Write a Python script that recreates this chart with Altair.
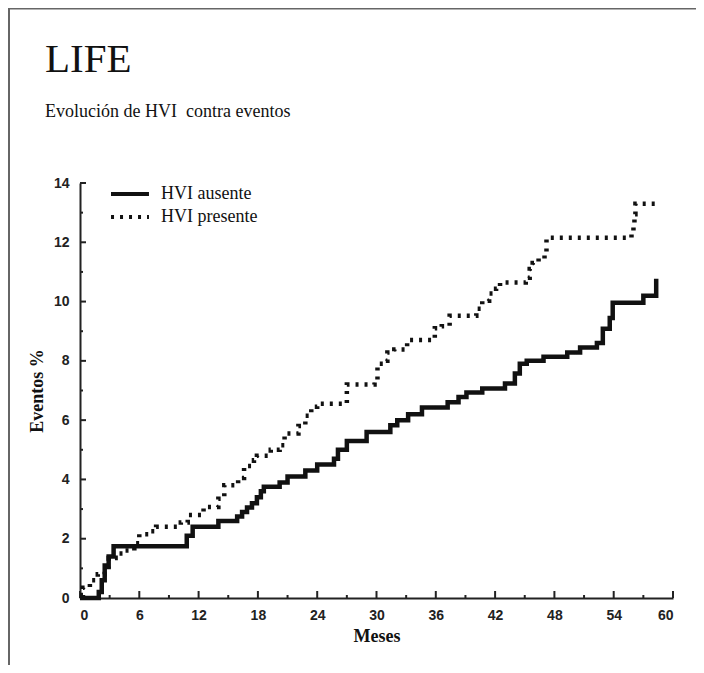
import altair as alt
import pandas as pd

# ---- data ----
series_names = ["HVI ausente", "HVI presente"]

ausente_mes = [0, 1.9, 2.2, 2.5, 2.9, 3.4, 10.8, 11.4, 14.0, 15.9, 16.4, 16.9, 17.4, 17.9, 18.3, 18.6,
               20.2, 21.0, 22.8, 24.0, 25.7, 26.1, 27.0, 29.0, 31.4, 32.1, 33.2, 34.6, 37.2, 38.3,
               39.1, 40.7, 43.0, 44.0, 44.5, 45.2, 46.9, 49.3, 50.6, 52.3, 52.9, 53.6, 53.9, 57.0, 58.3]
ausente_val = [0, 0.2, 0.6, 1.1, 1.4, 1.75, 2.1, 2.4, 2.6, 2.75, 2.9, 3.05, 3.2, 3.4, 3.6, 3.75,
               3.9, 4.1, 4.3, 4.5, 4.7, 5.0, 5.3, 5.6, 5.83, 6.0, 6.2, 6.43, 6.6, 6.78,
               6.93, 7.07, 7.24, 7.57, 7.9, 8.0, 8.14, 8.28, 8.45, 8.6, 9.08, 9.45, 9.96, 10.2, 10.77]

presente_mes = [0, 0.3, 1.0, 1.8, 2.5, 2.9, 3.6, 4.6, 5.5, 6.0, 7.2, 7.7, 10.2, 10.9, 12.5, 14.0,
                14.6, 16.0, 16.6, 17.6, 17.9, 19.3, 20.2, 20.7, 22.1, 22.8, 23.4, 24.0, 27.0, 29.8,
                30.1, 30.9, 31.1, 31.8, 33.1, 35.9, 36.6, 37.4, 40.1, 40.7, 41.4, 42.1, 42.5, 45.1,
                45.5, 45.8, 46.4, 47.0, 47.2, 55.8, 56.0, 56.1, 56.2, 58.3]
presente_val = [0.1, 0.35, 0.6, 0.8, 1.05, 1.35, 1.5, 1.6, 1.85, 2.15, 2.25, 2.4, 2.55, 2.8, 3.07, 3.35,
                3.8, 4.05, 4.45, 4.65, 4.8, 5.0, 5.15, 5.55, 5.8, 6.15, 6.45, 6.55, 7.2, 7.35,
                7.9, 8.0, 8.28, 8.38, 8.7, 9.1, 9.17, 9.52, 9.76, 10.03, 10.27, 10.43, 10.64, 10.8,
                11.1, 11.3, 11.45, 11.6, 12.15, 12.3, 12.65, 12.95, 13.3, 13.3]

x_ticks_major = list(range(0, 61, 6))
x_ticks_minor = list(range(3, 60, 6))
y_ticks_major = list(range(0, 15, 2))
y_ticks_minor = list(range(1, 14, 2))

title_text = "LIFE"
subtitle_text = "Evolución de HVI\u00a0 contra eventos"
x_title = "Meses"
y_title = "Eventos %"

# ---- tables ----
df = pd.concat([
    pd.DataFrame({"mes": ausente_mes, "valor": ausente_val, "serie": series_names[0]}),
    pd.DataFrame({"mes": presente_mes, "valor": presente_val, "serie": series_names[1]}),
], ignore_index=True)

W, H = 593, 415
PAD = {"left": 72, "top": 175, "right": 23, "bottom": 67}

xscale = alt.Scale(domain=[0, 60], nice=False, zero=False)
yscale = alt.Scale(domain=[0, 14], nice=False, zero=False)
x_axis = alt.Axis(values=x_ticks_major, title=x_title, labelPadding=10, titlePadding=5)
y_axis = alt.Axis(values=y_ticks_major, title=y_title, labelPadding=11, titlePadding=7)

lines = alt.Chart(df).mark_line(interpolate="step-after", color="#111", strokeWidth=4.5,
                                strokeCap="butt").encode(
    x=alt.X("mes:Q", scale=xscale, axis=x_axis),
    y=alt.Y("valor:Q", scale=yscale, axis=y_axis),
    strokeDash=alt.StrokeDash(
        "serie:N",
        scale=alt.Scale(domain=series_names, range=[[1, 0], [3, 6]]),
        legend=alt.Legend(title=None, orient="none", legendX=41, legendY=2,
                          symbolType="M-3,0H3", symbolSize=160, symbolStrokeWidth=4,
                          symbolStrokeColor="#111", labelFont="Liberation Serif",
                          labelFontSize=18, labelColor="#111", labelOffset=22,
                          rowPadding=5, padding=0),
    ),
    order=alt.Order("mes:Q"),
)

tick_style = dict(color="#222", strokeWidth=2)
xmaj = alt.Chart(pd.DataFrame({"mes": x_ticks_major})).mark_rule(**tick_style).encode(
    x=alt.X("mes:Q", scale=xscale, axis=x_axis), y=alt.value(H), y2=alt.value(H - 7))
xmin = alt.Chart(pd.DataFrame({"mes": x_ticks_minor})).mark_rule(**tick_style).encode(
    x=alt.X("mes:Q", scale=xscale, axis=x_axis), y=alt.value(H), y2=alt.value(H - 3))
ymaj = alt.Chart(pd.DataFrame({"valor": y_ticks_major})).mark_rule(**tick_style).encode(
    y=alt.Y("valor:Q", scale=yscale, axis=y_axis), x=alt.value(0), x2=alt.value(6))
ymin = alt.Chart(pd.DataFrame({"valor": y_ticks_minor})).mark_rule(**tick_style).encode(
    y=alt.Y("valor:Q", scale=yscale, axis=y_axis), x=alt.value(0), x2=alt.value(3))

frame_df = pd.DataFrame({"k": [0]})
top_border = alt.Chart(frame_df).mark_rule(color="#666", strokeWidth=2).encode(
    x=alt.value(-PAD["left"]), x2=alt.value(W + PAD["right"]), y=alt.value(-PAD["top"] + 0.5))
left_border = alt.Chart(frame_df).mark_rule(color="#666", strokeWidth=2).encode(
    x=alt.value(-PAD["left"] + 1), y=alt.value(-PAD["top"]), y2=alt.value(H + PAD["bottom"]))

chart = alt.layer(top_border, left_border, xmaj, xmin, ymaj, ymin, lines).properties(
    width=W, height=H,
    autosize=alt.AutoSizeParams(type="none"),
    padding=PAD,
    title=alt.TitleParams(text=title_text, subtitle=subtitle_text, anchor="start", frame="group",
                          dx=-35, dy=115, offset=0, font="Liberation Serif", fontSize=41,
                          fontWeight="normal", color="#111",
                          subtitleFont="Liberation Serif", subtitleFontSize=18,
                          subtitleColor="#111", subtitlePadding=22),
).configure_view(stroke=None).configure_axis(
    grid=False, ticks=False, domainColor="#222", domainWidth=2,
    labelFont="Liberation Sans", labelFontWeight="bold", labelFontSize=14, labelColor="#222",
    titleFont="Liberation Serif", titleFontWeight="bold", titleFontSize=18, titleColor="#111",
)

chart.save("out.html", embed_options={"renderer": "svg", "actions": False})
